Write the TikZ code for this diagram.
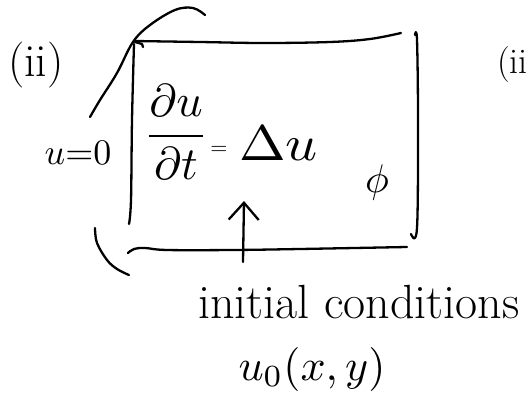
\documentclass[tikz,border=0pt]{standalone}
\usetikzlibrary{arrows.meta}
\begin{document}
\begin{tikzpicture}[x=1pt,y=-1pt,
  pen/.style={line width=2.3pt, line cap=round, line join=round},
  hand/.style={inner sep=0pt, anchor=base},
]
\useasboundingbox (0,0) rectangle (528,399);
\clip (0,0) rectangle (528,399);

% part labels
\node[hand, font=\fontsize{46}{54}\selectfont] (labelL) at (36,76) {(ii)};
\node[hand, anchor=base west, font=\fontsize{36}{42}\selectfont] (labelR) at (497,73) {(ii};

% boundary condition (math is set at 10pt and scaled up)
\node[hand, scale=3.6] (bc) at (78,164) {$u{=}0$};

% the equation inside the domain
\node[inner sep=0pt, scale=4.6] (frac) at (176,132) {$\displaystyle\frac{\partial u}{\partial t}$};
\node[inner sep=0pt, scale=2.2] (eq) at (219,150) {$=$};
\node[hand, anchor=base west, scale=5, xscale=1.12] (lap) at (238,160) {$\Delta u$};
\node[inner sep=0pt, scale=4] (phi) at (377,182) {$\phi$};

% initial data
\node[hand, anchor=base west, font=\fontsize{48}{56}\selectfont] (ic) at (198,318) {initial conditions};
\node[hand, scale=4.4] (u0) at (312,380) {$u_0(x,y)$};

% domain: hand-drawn rectangle
\draw[pen] plot[smooth, tension=0.6] coordinates {(134,41) (200,42) (264,43) (330,42) (370,39) (401,33)};
\draw[pen] plot[smooth, tension=0.6] coordinates {(134,44) (132,120) (131,200) (129,224)};
\draw[pen] (135,42) -- (142,44) -- (143,47);
\draw[pen] plot[smooth, tension=0.6] coordinates {(415,35) (417,40) (418,120) (417,228) (411,234)};
\draw[pen] plot[smooth, tension=0.6] coordinates {(128,253) (134,249) (145,248) (167,250) (233,250) (300,249) (407,247)};

% curved strokes outside the domain
\draw[pen] plot[smooth, tension=0.6] coordinates {(90,117) (100,100) (117,73) (133,42) (150,25) (175,10) (193,8) (205,15)};
\draw[pen] plot[smooth, tension=0.6] coordinates {(95,228) (97,243) (107,260) (117,269) (129,275)};

% arrow pointing at the domain
\coordinate (arrowfoot) at (243,262);
\coordinate (arrowtip) at (244,201);
\draw[pen, -{Straight Barb[length=17pt,width=30pt]}] (arrowfoot) -- (arrowtip);
\end{tikzpicture}
\end{document}
